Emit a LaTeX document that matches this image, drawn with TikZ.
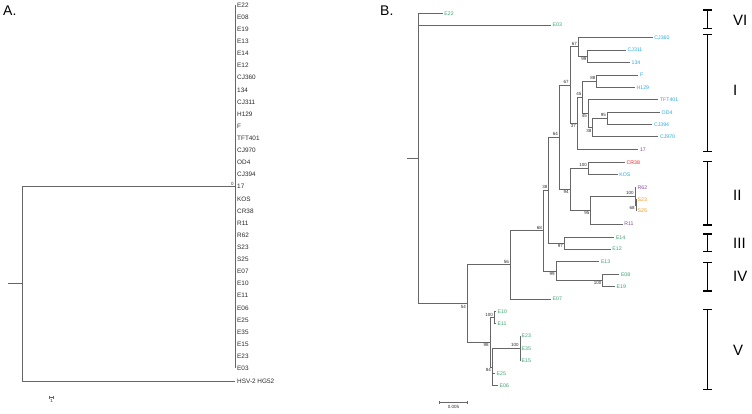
\documentclass[tikz,border=0pt]{standalone}
\usepackage{fontspec}
\setmainfont{Liberation Sans}
\usepackage{tikz}
\usetikzlibrary{positioning, arrows.meta}
\definecolor{branch}{HTML}{666666}
\definecolor{txtA}{HTML}{2B2B2B}
\definecolor{tipGreen}{HTML}{3DA36F}
\definecolor{tipCyan}{HTML}{2AAAE2}
\definecolor{tipRed}{HTML}{EC2227}
\definecolor{tipPurple}{HTML}{84489C}
\definecolor{tipOrange}{HTML}{F5941E}
\newcommand{\fsz}[1]{\fontsize{#1}{#1}\selectfont}
\newcommand{\cladebar}[2]{\draw[clade] (703.3,#1) -- (711.7,#1) (707.5,#1) -- (707.5,#2) (703.3,#2) -- (711.7,#2);}
\begin{document}
\begin{tikzpicture}[x=1pt, y=-1pt, br/.style={draw=branch, line width=0.9pt}, tipA/.style={anchor=west, inner sep=2pt, text=txtA, font=\fsz{6.4}}, tipB/.style={anchor=west, inner sep=1.5pt, font=\fsz{5.2}}, bsU/.style={anchor=south east, inner sep=1.2pt, text=txtA, font=\fsz{4.5}}, bsD/.style={anchor=north east, inner sep=1.2pt, text=txtA, font=\fsz{4.5}}, clade/.style={line width=1.4pt}, roman/.style={anchor=west, inner sep=0pt, font=\fsz{15}}, panel/.style={anchor=base west, inner sep=0pt, font=\fsz{14}}]
\useasboundingbox (0,0) rectangle (752,413);
% panel A
\node[panel] (pA) at (3,15) {A.};
\node[tipA] (aE22) at (235,5) {E22}; \node[tipA] (aE08) at (235,17.1) {E08};
\node[tipA] (aE19) at (235,29.2) {E19}; \node[tipA] (aE13) at (235,41.3) {E13};
\node[tipA] (aE14) at (235,53.4) {E14}; \node[tipA] (aE12) at (235,65.6) {E12};
\node[tipA] (aCJ360) at (235,77.7) {CJ360}; \node[tipA] (a134) at (235,89.8) {134};
\node[tipA] (aCJ311) at (235,101.9) {CJ311}; \node[tipA] (aH129) at (235,114) {H129};
\node[tipA] (aF) at (235,126.1) {F}; \node[tipA] (aTFT401) at (235,138.2) {TFT401};
\node[tipA] (aCJ970) at (235,150.3) {CJ970}; \node[tipA] (aOD4) at (235,162.4) {OD4};
\node[tipA] (aCJ394) at (235,174.5) {CJ394}; \node[tipA] (a17) at (235,186.7) {17};
\node[tipA] (aKOS) at (235,198.8) {KOS}; \node[tipA] (aCR38) at (235,210.9) {CR38};
\node[tipA] (aR11) at (235,223) {R11}; \node[tipA] (aR62) at (235,235.1) {R62};
\node[tipA] (aS23) at (235,247.2) {S23}; \node[tipA] (aS25) at (235,259.3) {S25};
\node[tipA] (aE07) at (235,271.4) {E07}; \node[tipA] (aE10) at (235,283.5) {E10};
\node[tipA] (aE11) at (235,295.6) {E11}; \node[tipA] (aE06) at (235,307.8) {E06};
\node[tipA] (aE25) at (235,319.9) {E25}; \node[tipA] (aE35) at (235,332) {E35};
\node[tipA] (aE15) at (235,344.1) {E15}; \node[tipA] (aE23) at (235,356.2) {E23};
\node[tipA] (aE03) at (235,368.3) {E03};
\node[tipA] (aHSV) at (235,381) {HSV-2 HG52};
\coordinate (aRoot) at (22.3,283.8);
\coordinate (aStub) at (8.3,283.8);
\draw[br] (aE22.west) -- (aE03.west);
\draw[br] (aStub) -- (aRoot) |- (a17.west);
\draw[br] (aRoot) |- (aHSV.west);
\node[bsU] (aBs0) at (a17.west) {0};
\coordinate (aSc1) at (49.3,397.3); \coordinate (aSc2) at (54,397.3);
\draw[br, line width=0.6pt, {Bar[width=3pt]}-{Bar[width=3pt]}] (aSc1) -- (aSc2);
\node[anchor=north, inner sep=1pt, text=txtA, font=\fsz{4.5}] (aScL) at (51.6,398.5) {1};
% panel B
\node[panel] (pB) at (380,15) {B.};
\node[tipB, text=tipGreen] (bE22) at (442.7,13.3) {E22};
\node[tipB, text=tipGreen] (bE03) at (551,25) {E03};
\node[tipB, text=tipCyan] (bCJ360) at (652.7,37.3) {CJ360};
\node[tipB, text=tipCyan] (bCJ311) at (626,50) {CJ311};
\node[tipB, text=tipCyan] (b134) at (630,62.3) {134};
\node[tipB, text=tipCyan] (bF) at (638.3,75) {F};
\node[tipB, text=tipCyan] (bH129) at (635,87.3) {H129};
\node[tipB, text=tipCyan] (bTFT401) at (658.3,99.3) {TFT401};
\node[tipB, text=tipCyan] (bOD4) at (660,112.3) {OD4};
\node[tipB, text=tipCyan] (bCJ394) at (652.3,124.3) {CJ394};
\node[tipB, text=tipCyan] (bCJ970) at (658.3,136.7) {CJ970};
\node[tipB, text=tipPurple] (b17) at (638.3,149.3) {17};
\node[tipB, text=tipRed] (bCR38) at (625,162.3) {CR38};
\node[tipB, text=tipCyan] (bKOS) at (617.7,174.3) {KOS};
\node[tipB, text=tipPurple] (bR62) at (636,187.3) {R62};
\node[tipB, text=tipOrange] (bS23) at (636,199.3) {S23};
\node[tipB, text=tipOrange] (bS25) at (636,211) {S25};
\node[tipB, text=tipPurple] (bR11) at (622.7,224) {R11};
\node[tipB, text=tipGreen] (bE14) at (614.3,237.3) {E14};
\node[tipB, text=tipGreen] (bE12) at (610.7,249) {E12};
\node[tipB, text=tipGreen] (bE13) at (599.3,261.7) {E13};
\node[tipB, text=tipGreen] (bE08) at (619.3,274.3) {E08};
\node[tipB, text=tipGreen] (bE19) at (615,286.3) {E19};
\node[tipB, text=tipGreen] (bE07) at (551,299) {E07};
\node[tipB, text=tipGreen] (bE10) at (496,311.7) {E10};
\node[tipB, text=tipGreen] (bE11) at (496,323.3) {E11};
\node[tipB, text=tipGreen] (bE23) at (520,336) {E23};
\node[tipB, text=tipGreen] (bE35) at (520,348.4) {E35};
\node[tipB, text=tipGreen] (bE15) at (520,360.7) {E15};
\node[tipB, text=tipGreen] (bE25) at (495,373.3) {E25};
\node[tipB, text=tipGreen] (bE06) at (498,385.7) {E06};
% internal nodes
\coordinate (bStub) at (407.3,158.5); \coordinate (bRoot) at (418.7,158.5);
\coordinate (n54) at (467.3,303.6); \coordinate (n56) at (510.3,264.9);
\coordinate (n68) at (543.3,230.8); \coordinate (n38) at (548.7,190.2);
\coordinate (n64) at (559.3,137.2); \coordinate (n67b) at (570,85);
\coordinate (n67a) at (578.3,46.7); \coordinate (n99a) at (587.7,56.2);
\coordinate (n37) at (577.3,123.3); \coordinate (n45a) at (582.7,97.2);
\coordinate (n88) at (596.7,81.2); \coordinate (n45b) at (588.3,113.4);
\coordinate (n38b) at (592.7,127.5); \coordinate (n95) at (607.3,118.3);
\coordinate (n94) at (570,189.3); \coordinate (n100a) at (588.3,168.3);
\coordinate (n95b) at (590.7,210.1); \coordinate (n100c) at (635,196.2);
\coordinate (n68b) at (636,205.2); \coordinate (n97) at (564.3,243.2);
\coordinate (n99b) at (556,271); \coordinate (n100b) at (602.7,280.3);
\coordinate (n98) at (490,342.3); \coordinate (n100d) at (494.3,317.5);
\coordinate (n84) at (492.3,367.1); \coordinate (n100e) at (520,348.4);
% branches
\draw[br] (bStub) -- (bRoot);
\draw[br] (bRoot) |- (bE22.west); \draw[br] (bRoot) |- (bE03.west); \draw[br] (bRoot) |- (n54);
\draw[br] (n54) |- (n56); \draw[br] (n54) |- (n98);
\draw[br] (n56) |- (n68); \draw[br] (n56) |- (bE07.west);
\draw[br] (n68) |- (n38); \draw[br] (n68) |- (n99b);
\draw[br] (n38) |- (n64); \draw[br] (n38) |- (n97);
\draw[br] (n64) |- (n67b); \draw[br] (n64) |- (n94);
\draw[br] (n67b) |- (n67a); \draw[br] (n67b) |- (n37);
\draw[br] (n67a) |- (bCJ360.west); \draw[br] (n67a) |- (n99a);
\draw[br] (n99a) |- (bCJ311.west); \draw[br] (n99a) |- (b134.west);
\draw[br] (n37) |- (n45a); \draw[br] (n37) |- (b17.west);
\draw[br] (n45a) |- (n88); \draw[br] (n45a) |- (n45b);
\draw[br] (n88) |- (bF.west); \draw[br] (n88) |- (bH129.west);
\draw[br] (n45b) |- (bTFT401.west); \draw[br] (n45b) |- (n38b);
\draw[br] (n38b) |- (n95); \draw[br] (n38b) |- (bCJ970.west);
\draw[br] (n95) |- (bOD4.west); \draw[br] (n95) |- (bCJ394.west);
\draw[br] (n94) |- (n100a); \draw[br] (n94) |- (n95b);
\draw[br] (n100a) |- (bCR38.west); \draw[br] (n100a) |- (bKOS.west);
\draw[br] (n95b) |- (n100c); \draw[br] (n95b) |- (bR11.west);
\draw[br] (n100c) |- (bR62.west); \draw[br] (n100c) |- (n68b);
\draw[br] (n68b) |- (bS23.west); \draw[br] (n68b) |- (bS25.west);
\draw[br] (n97) |- (bE14.west); \draw[br] (n97) |- (bE12.west);
\draw[br] (n99b) |- (bE13.west); \draw[br] (n99b) |- (n100b);
\draw[br] (n100b) |- (bE08.west); \draw[br] (n100b) |- (bE19.west);
\draw[br] (n98) |- (n100d); \draw[br] (n98) |- (n84);
\draw[br] (n100d) |- (bE10.west); \draw[br] (n100d) |- (bE11.west);
\draw[br] (n84) |- (n100e); \draw[br] (n84) |- (bE25.west); \draw[br] (n84) |- (bE06.west);
\draw[br] (n100e) |- (bE23.west); \draw[br] (n100e) |- (bE35.west); \draw[br] (n100e) |- (bE15.west);
% bootstrap values
\node[bsD] (bs54) at (n54) {54}; \node[bsU] (bs56) at (n56) {56};
\node[bsU] (bs68) at (n68) {68}; \node[bsU] (bs38) at (n38) {38};
\node[bsU] (bs64) at (n64) {64}; \node[bsU] (bs67b) at (n67b) {67};
\node[bsU] (bs67a) at (n67a) {67}; \node[bsD] (bs99a) at (n99a) {99};
\node[bsD] (bs37) at (n37) {37}; \node[bsU] (bs45a) at (n45a) {45};
\node[bsU] (bs88) at (n88) {88}; \node[bsD] (bs45b) at (n45b) {45};
\node[bsD] (bs38b) at (n38b) {38}; \node[bsU] (bs95) at (n95) {95};
\node[bsD] (bs94) at (n94) {94}; \node[bsU] (bs100a) at (n100a) {100};
\node[bsD] (bs95b) at (n95b) {95}; \node[bsU] (bs100c) at (n100c) {100};
\node[bsD] (bs68b) at (n68b) {68}; \node[bsD] (bs97) at (n97) {97};
\node[bsD] (bs99b) at (n99b) {99}; \node[bsD] (bs100b) at (n100b) {100};
\node[bsD] (bs98) at (n98) {98}; \node[bsU] (bs100d) at (n100d) {100};
\node[bsD] (bs84) at (n84) {84}; \node[bsU] (bs100e) at (n100e) {100};
% scale bar
\coordinate (bSc1) at (439.3,402.7); \coordinate (bSc2) at (467.7,402.7);
\draw[br, {Bar[width=3pt]}-{Bar[width=3pt]}] (bSc1) -- (bSc2);
\node[anchor=north, inner sep=1pt, text=txtA, font=\fsz{4.5}] (bScL) at (453.5,404) {0.005};
% clades
\cladebar{10}{28.3} \node[roman] (cVI) at (733,20) {VI};
\cladebar{34.3}{151.7} \node[roman] (cI) at (733,90) {I};
\cladebar{161.7}{225} \node[roman] (cII) at (733,195) {II};
\cladebar{234}{251.7} \node[roman] (cIII) at (733,243.3) {III};
\cladebar{262.7}{291} \node[roman] (cIV) at (733,276) {IV};
\cladebar{309.3}{389.3} \node[roman] (cV) at (733,350) {V};
\end{tikzpicture}
\end{document}
